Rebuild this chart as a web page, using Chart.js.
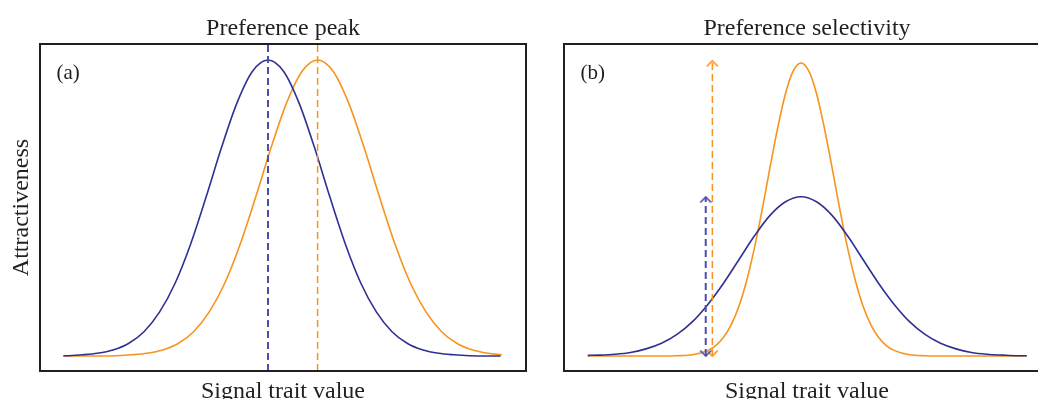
<!DOCTYPE html>
<html lang="en">
<head>
<meta charset="utf-8">
<title>Preference peak / Preference selectivity</title>
<script src="https://cdn.jsdelivr.net/npm/chart.js@4.4.1/dist/chart.umd.min.js"></script>
<style>
  html, body { margin: 0; padding: 0; background: #fff; overflow: hidden; width: 1038px; height: 399px; }
  .panel { position: absolute; top: 0; width: 545px; height: 410px; }
  #wrapA { left: 0; }
  #wrapB { left: 524px; }
</style>
</head>
<body>
<div class="panel" id="wrapA"><canvas id="chartA"></canvas></div>
<div class="panel" id="wrapB"><canvas id="chartB"></canvas></div>
<script>
// values (x in arbitrary signal units, y = attractiveness)
const aBlueX = [-3.3,-3.25,-3,-2.75,-2.5,-2.25,-2,-1.75,-1.5,-1.25,-1,-0.75,-0.5,-0.25,0,0.25,0.5,0.75,1,1.25,1.5,1.75,2,2.25,2.5,2.75,3,3.25,3.5,3.75];
const aBlueY = [0.001,0.001,0.004,0.009,0.020,0.042,0.082,0.148,0.245,0.377,0.536,0.704,0.855,0.962,1.000,0.962,0.855,0.704,0.536,0.377,0.245,0.148,0.082,0.042,0.020,0.009,0.004,0.001,0.000,0.000];
const aOrangeX = [-3.3,-3.2,-2.95,-2.7,-2.45,-2.2,-1.95,-1.7,-1.45,-1.2,-0.95,-0.7,-0.45,-0.2,0.05,0.3,0.55,0.8,1.05,1.3,1.55,1.8,2.05,2.3,2.55,2.8,3.05,3.3,3.55,3.77];
const aOrangeY = [0.000,0.000,0.000,0.000,0.001,0.004,0.009,0.020,0.042,0.082,0.148,0.245,0.377,0.536,0.704,0.855,0.962,1.000,0.962,0.855,0.704,0.536,0.377,0.245,0.148,0.082,0.042,0.020,0.009,0.004];
const aPeakX = [0, 0.8];   // blue peak, orange peak

const bBlueX = [-3.44,-3.25,-3,-2.75,-2.5,-2.25,-2,-1.75,-1.5,-1.25,-1,-0.75,-0.5,-0.25,0,0.25,0.5,0.75,1,1.25,1.5,1.75,2,2.25,2.5,2.75,3,3.25,3.5,3.64];
const bBlueY = [0.002,0.003,0.006,0.012,0.024,0.043,0.073,0.116,0.175,0.246,0.326,0.406,0.475,0.521,0.538,0.521,0.475,0.406,0.326,0.246,0.175,0.116,0.073,0.043,0.024,0.012,0.006,0.003,0.001,0.001];
const bOrangeX = [-3.44,-2.5,-2,-1.75,-1.5,-1.375,-1.25,-1.125,-1,-0.875,-0.75,-0.625,-0.5,-0.375,-0.25,-0.125,0,0.125,0.25,0.375,0.5,0.625,0.75,0.875,1,1.125,1.25,1.375,1.5,1.75,2,2.5,3.64];
const bOrangeY = [0,0,0.001,0.004,0.019,0.035,0.063,0.106,0.169,0.256,0.366,0.496,0.637,0.772,0.887,0.963,0.990,0.963,0.887,0.772,0.637,0.496,0.366,0.256,0.169,0.106,0.063,0.035,0.019,0.004,0.001,0,0];
const bArrowX = [-1.537, -1.43];     // blue arrow, orange arrow
const bArrowTop = [0.537, 0.997];

const yMin = -0.0507, yMax = 1.054;
const blue = '#2e3192', blueDash = '#4e4ea8', orange = '#f7941d', ink = '#231f20';
const serif = "'Liberation Serif', 'Times New Roman', serif";

function pts(xs, ys) { return xs.map((x, i) => ({ x: x, y: ys[i] })); }

function curve(xs, ys, color) {
  return { data: pts(xs, ys), borderColor: color, borderWidth: 1.6, pointRadius: 0,
           cubicInterpolationMode: 'monotone', fill: false };
}

function dashed(x, y0, y1, color, width, styles) {
  return { data: [{ x: x, y: y0 }, { x: x, y: y1 }], borderColor: color, borderWidth: width,
           borderDash: [7, 4], tension: 0, fill: false,
           pointRadius: styles ? 3 : 0, pointStyle: styles || 'circle' };
}

function chevron(color, up) {
  const c = document.createElement('canvas');
  c.width = 14; c.height = 14;
  const g = c.getContext('2d');
  g.strokeStyle = color; g.lineWidth = 1.6;
  g.beginPath();
  if (up) { g.moveTo(1.5, 12.5); g.lineTo(7, 7); g.lineTo(12.5, 12.5); }
  else { g.moveTo(1.5, 1.5); g.lineTo(7, 7); g.lineTo(12.5, 1.5); }
  g.stroke();
  return c;
}

const frame = {
  id: 'frame',
  afterDraw(chart, args, opts) {
    const a = chart.chartArea, ctx = chart.ctx;
    ctx.save();
    ctx.strokeStyle = ink; ctx.lineWidth = 2;
    ctx.strokeRect(a.left, a.top, a.right - a.left, a.bottom - a.top);
    ctx.fillStyle = ink;
    ctx.font = '21px ' + serif;
    ctx.textBaseline = 'alphabetic';
    ctx.fillText(opts.label, a.left + 16.5, a.top + 34.5);
    ctx.restore();
  }
};

function makeOptions(xMin, xMax, topTitle, yTitle, label) {
  const font = { family: serif, size: 24 };
  const hidden = { ticks: { display: false }, grid: { display: false }, border: { display: false } };
  return {
    responsive: true, maintainAspectRatio: false, animation: false,
    layout: { padding: { left: 0, right: 19, top: 0, bottom: 0 } },
    plugins: { legend: { display: false }, tooltip: { enabled: false }, frame: { label: label } },
    scales: {
      x: Object.assign({ type: 'linear', position: 'bottom', min: xMin, max: xMax,
        title: { display: true, text: 'Signal trait value', color: ink, font: font, padding: { top: 0, bottom: 3.6 } },
        afterFit: s => { s.height = 39; } }, hidden),
      x2: Object.assign({ type: 'linear', position: 'top', min: xMin, max: xMax,
        title: { display: true, text: topTitle, color: ink, font: font, padding: { top: 14, bottom: 0 } },
        afterFit: s => { s.height = 44; } }, hidden),
      y: Object.assign({ type: 'linear', position: 'left', min: yMin, max: yMax,
        title: { display: !!yTitle, text: yTitle || '', color: ink, font: font, padding: { top: 7.5, bottom: 0 } },
        afterFit: s => { s.width = 40; } }, hidden)
    }
  };
}

new Chart(document.getElementById('chartA'), {
  type: 'line',
  data: {
    datasets: [
      dashed(aPeakX[0], yMin, yMax, blueDash, 2),
      dashed(aPeakX[1], yMin, yMax, orange, 1.5),
      curve(aBlueX, aBlueY, blue),
      curve(aOrangeX, aOrangeY, orange)
    ]
  },
  options: makeOptions(-3.677, 4.161, 'Preference peak', 'Attractiveness', '(a)'),
  plugins: [frame]
});

new Chart(document.getElementById('chartB'), {
  type: 'line',
  data: {
    datasets: [
      dashed(bArrowX[0], 0, bArrowTop[0], blueDash, 2, [chevron(blueDash, false), chevron(blueDash, true)]),
      dashed(bArrowX[1], 0, bArrowTop[1], orange, 1.5, [chevron(orange, false), chevron(orange, true)]),
      curve(bBlueX, bBlueY, blue),
      curve(bOrangeX, bOrangeY, orange)
    ]
  },
  options: makeOptions(-3.823, 4.016, 'Preference selectivity', null, '(b)'),
  plugins: [frame]
});
</script>
</body>
</html>
